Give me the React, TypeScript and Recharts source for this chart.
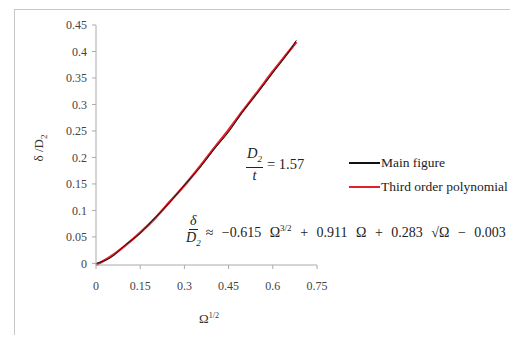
import { LineChart, Line, XAxis, YAxis } from 'recharts';

// Ω^(1/2) sample positions
const omegaRoot = [0, 0.05, 0.1, 0.15, 0.2, 0.25, 0.3, 0.35, 0.4, 0.45, 0.5, 0.55, 0.6, 0.65, 0.68];
// black curve (main figure)
const mainFigure = [0, 0.011, 0.035, 0.057, 0.086, 0.115, 0.148, 0.179, 0.215, 0.248, 0.288, 0.323, 0.36, 0.396, 0.421];
// red curve (third order polynomial fit)
const polyFit = [-0.003, 0.013, 0.034, 0.058, 0.085, 0.116, 0.147, 0.181, 0.217, 0.252, 0.289, 0.325, 0.362, 0.397, 0.418];

const xTicks = [0, 0.15, 0.3, 0.45, 0.6, 0.75];
const yTicks = [0, 0.05, 0.1, 0.15, 0.2, 0.25, 0.3, 0.35, 0.4, 0.45];

const data = omegaRoot.map((x, i) => ({ x, main: mainFigure[i], poly: polyFit[i] }));

const serif = "'Times New Roman', 'Liberation Serif', Tinos, serif";

export default function App() {
  return (
    <div style={{ position: 'relative', width: 518, height: 343, margin: -8, background: '#fff', overflow: 'hidden', fontFamily: serif }}>
      <div
        style={{
          position: 'absolute',
          left: 14,
          top: 9,
          width: 520,
          height: 331,
          border: '1px solid #c8c8c8',
          boxSizing: 'border-box',
        }}
      />
      <LineChart
        width={518}
        height={343}
        data={data}
        margin={{ top: 25, right: 201, bottom: 48, left: 0 }}
        style={{ position: 'absolute', left: 0, top: 0, fontFamily: serif }}
      >
        <XAxis
          dataKey="x"
          type="number"
          domain={[0, 0.75]}
          ticks={xTicks}
          height={30}
          stroke="#aaa"
          tickSize={4}
          tick={{ fill: '#444', fontSize: 12, fontFamily: serif }}
          tickMargin={12}
        />
        <YAxis
          type="number"
          domain={[0, 0.45]}
          ticks={yTicks}
          width={96}
          stroke="#aaa"
          tickSize={4}
          tick={{ fill: '#444', fontSize: 12, fontFamily: serif }}
          tickMargin={5}
        />
        <Line
          dataKey="poly"
          type="monotone"
          stroke="#e0202a"
          strokeWidth={2.5}
          dot={false}
          isAnimationActive={false}
        />
        <Line
          dataKey="main"
          type="monotone"
          stroke="#111"
          strokeWidth={1}
          dot={false}
          isAnimationActive={false}
        />
      </LineChart>

      {/* legend */}
      <div style={{ position: 'absolute', left: 349, top: 151, fontSize: 13.5, color: '#222', lineHeight: '24px' }}>
        <div style={{ display: 'flex', alignItems: 'center' }}>
          <span style={{ width: 31, height: 2, background: '#111', display: 'inline-block', marginRight: 1 }} />
          Main figure
        </div>
        <div style={{ display: 'flex', alignItems: 'center' }}>
          <span style={{ width: 31, height: 2.5, background: '#e0202a', display: 'inline-block', marginRight: 1 }} />
          Third order polynomial
        </div>
      </div>

      {/* axis titles */}
      <div
        style={{
          position: 'absolute',
          left: 40,
          top: 148,
          transform: 'translate(-50%, -50%) rotate(-90deg)',
          fontSize: 13,
          color: '#333',
          whiteSpace: 'nowrap',
        }}
      >
        δ /D<sub style={{ fontSize: 9 }}>2</sub>
      </div>
      <div
        style={{
          position: 'absolute',
          left: 199,
          top: 311,
          fontSize: 13,
          color: '#333',
        }}
      >
        Ω<sup style={{ fontSize: 8 }}>1/2</sup>
      </div>

      {/* D2 / t annotation */}
      <div style={{ position: 'absolute', left: 246, top: 146, fontSize: 14.5, color: '#222', display: 'flex', alignItems: 'center' }}>
        <div style={{ display: 'flex', flexDirection: 'column', alignItems: 'center', fontStyle: 'italic' }}>
          <span style={{ borderBottom: '1px solid #222', padding: '0 1px', lineHeight: '15px' }}>
            D<sub style={{ fontSize: 9 }}>2</sub>
          </span>
          <span style={{ lineHeight: '15px' }}>t</span>
        </div>
        <span style={{ marginLeft: 4 }}>= 1.57</span>
      </div>

      {/* fitted equation */}
      <div style={{ position: 'absolute', left: 186, top: 213, fontSize: 14, color: '#222', display: 'flex', alignItems: 'center', whiteSpace: 'nowrap' }}>
        <div style={{ display: 'flex', flexDirection: 'column', alignItems: 'center', fontStyle: 'italic' }}>
          <span style={{ borderBottom: '1px solid #222', padding: '0 1px', lineHeight: '16px' }}>δ</span>
          <span style={{ lineHeight: '16px' }}>
            D<sub style={{ fontSize: 9 }}>2</sub>
          </span>
        </div>
        <span style={{ marginLeft: 5, wordSpacing: 5 }}>
          ≈ −0.615 Ω<sup style={{ fontSize: 9 }}>3/2</sup> + 0.911 Ω + 0.283 √Ω − 0.003
        </span>
      </div>
    </div>
  );
}
